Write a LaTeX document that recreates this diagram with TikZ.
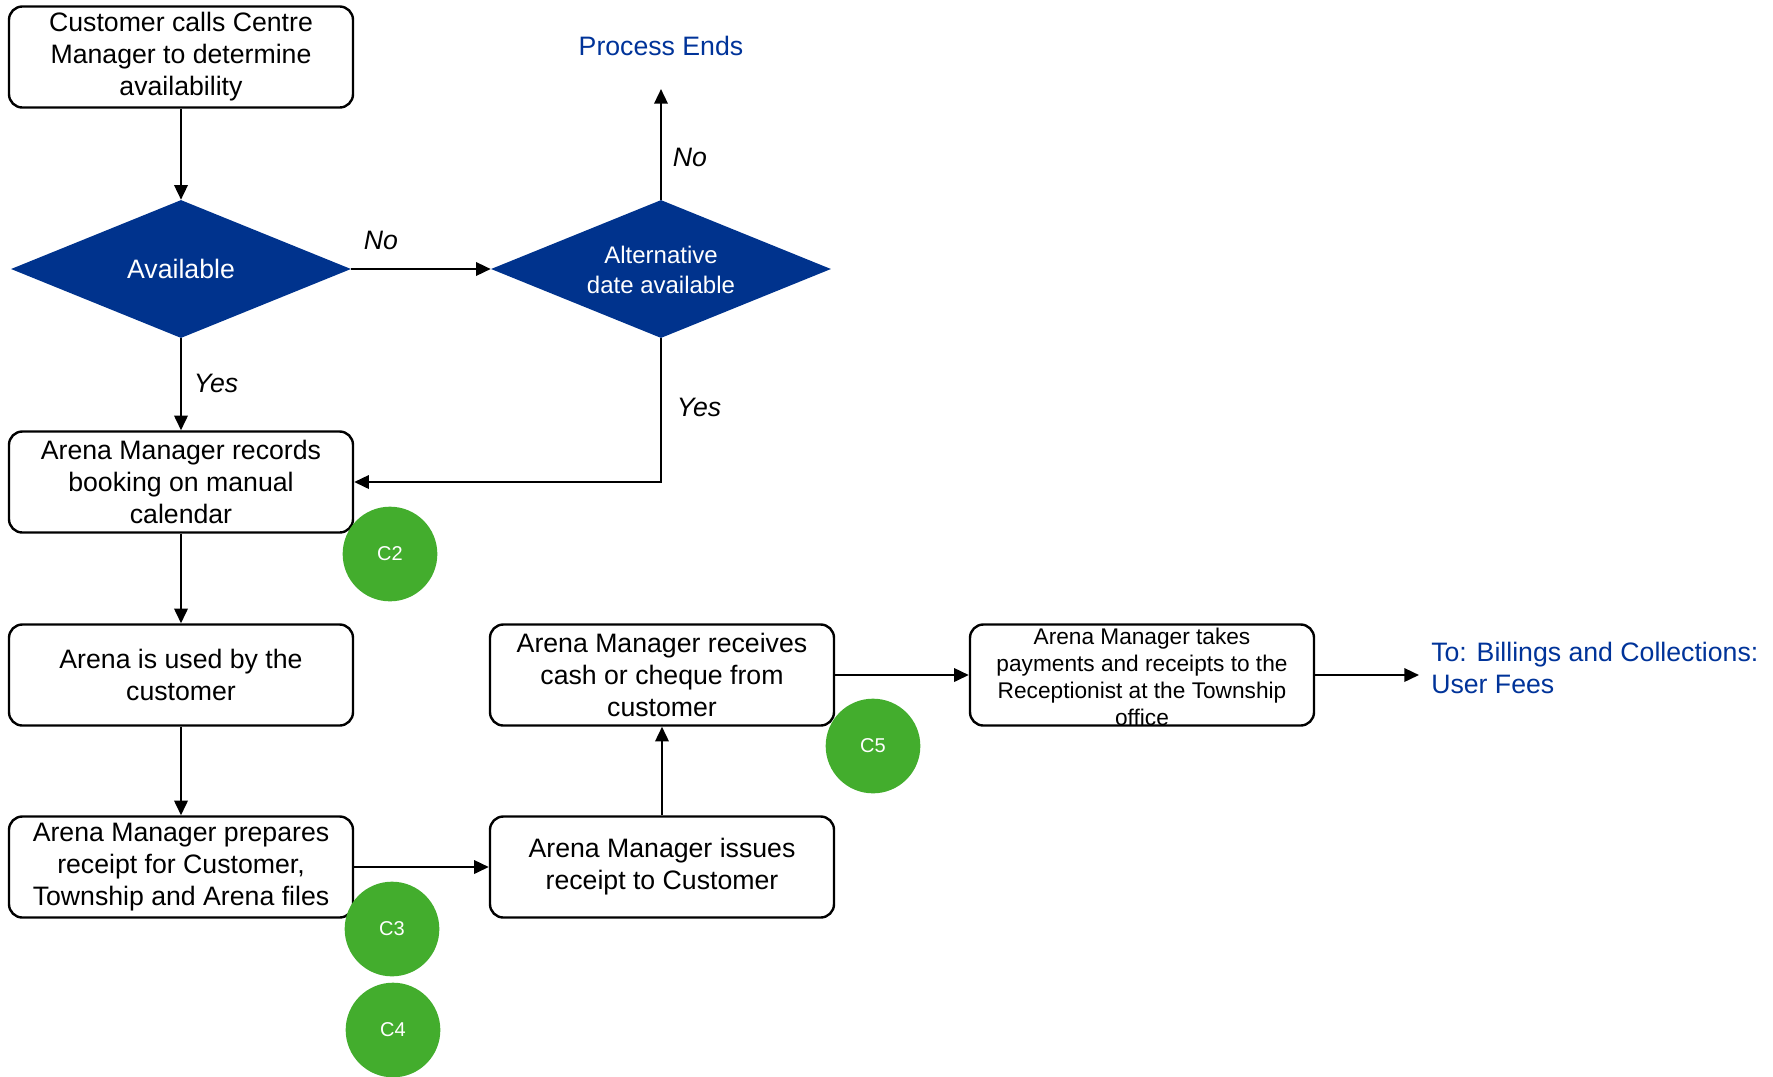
\documentclass[tikz,border=0pt]{standalone}
\usepackage{fontspec}
\setmainfont{Liberation Sans}
\usetikzlibrary{shapes.geometric,arrows.meta}
\definecolor{flowblue}{RGB}{0,51,141}
\definecolor{linkblue}{RGB}{0,51,153}
\definecolor{ctrlgreen}{RGB}{67,173,45}

\begin{document}
\begin{tikzpicture}[x=0.75pt,y=-0.75pt,
  box/.style={draw, line width=1.8pt, rounded corners=10pt, minimum width=258pt,
    minimum height=75.75pt, inner sep=2pt, align=center,
    font=\fontsize{20}{24}\selectfont},
  decision/.style={diamond, fill=flowblue, minimum width=255pt,
    minimum height=103.5pt, inner sep=0pt},
  decisiontext/.style={text=white, align=center, inner sep=0pt},
  control/.style={circle, fill=ctrlgreen, text=white, minimum size=71pt,
    inner sep=0pt, font=\fontsize{15}{18}\selectfont},
  flow/.style={line width=1.8pt, -{Triangle[length=11pt,width=10pt]}},
  answer/.style={font=\fontsize{20}{24}\selectfont\itshape, inner sep=0pt},
  link/.style={text=linkblue, font=\fontsize{20}{24}\selectfont, align=left, inner sep=0pt}
]
\useasboundingbox (0,0) rectangle (1773,1076);

% process steps
\node[box] (call) at (181,57) {Customer calls Centre\\Manager to determine\\availability};
\node[decision] (avail) at (181,269) {};
\node[decisiontext, font=\fontsize{20}{24}\selectfont] (availtxt) at (181,269) {Available};
\node[decision] (alt) at (661,269) {};
\node[decisiontext, font=\fontsize{18}{22}\selectfont] (alttxt) at (661,270) {Alternative\\date available};
\node[link] (ends) at (661,46) {Process Ends};
\coordinate (endsin) at (661,89);

\node[box] (record) at (181,482) {Arena Manager records\\booking on manual\\calendar};
\node[box] (used) at (181,675) {Arena is used by the\\customer};
\node[box] (prep) at (181,867) {Arena Manager prepares\\receipt for Customer,\\Township and Arena files};
\node[box] (issue) at (662,867) {Arena Manager issues\\receipt to Customer};
\node[box] (cash) at (662,675) {Arena Manager receives\\cash or cheque from\\customer};
\node[box] (takes) at (1142,675) {};
\node[align=center, inner sep=0pt, font=\fontsize{17}{20.25}\selectfont] (takestxt) at (1142,677)
  {Arena Manager takes\\payments and receipts to the\\Receptionist at the Township\\office};
\node[link, anchor=west] (billing) at (1431,668) {To: Billings and Collections:\\User Fees};
\coordinate (billingin) at (1419,675);

% connectors
\draw[flow] (call) -- (avail);
\draw[flow] (avail) -- (alt);
\draw[flow] (alt) -- (endsin);
\draw[flow] (avail) -- (record);
\draw[flow] (alt.south) |- (record.east);
\draw[flow] (record) -- (used);
\draw[flow] (used) -- (prep);
\draw[flow] (prep) -- (issue);
\draw[flow] (issue) -- (cash);
\draw[flow] (cash) -- (takes);
\draw[flow] (takes) -- (billingin);

% decision answers
\node[answer] (noA) at (381,240) {No};
\node[answer] (noB) at (690,157) {No};
\node[answer] (yesA) at (216,383) {Yes};
\node[answer] (yesB) at (699,407) {Yes};

% control markers
\node[control] (c2) at (390,554) {C2};
\node[control] (c3) at (392,929) {C3};
\node[control] (c4) at (393,1030) {C4};
\node[control] (c5) at (873,746) {C5};
\end{tikzpicture}
\end{document}
